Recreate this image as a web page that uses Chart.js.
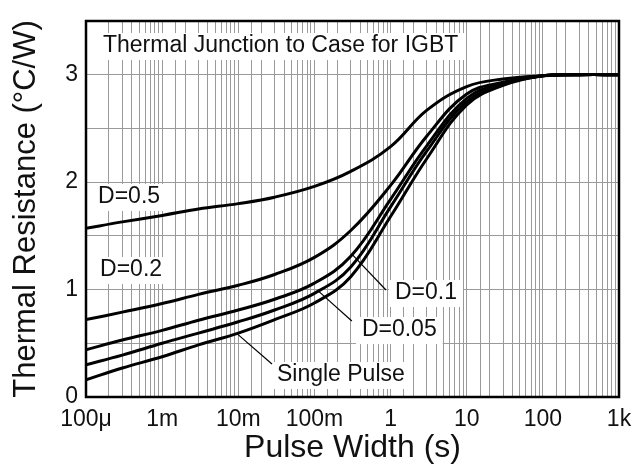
<!DOCTYPE html>
<html>
<head>
<meta charset="utf-8">
<script src="https://cdn.jsdelivr.net/npm/chart.js@4.4.1/dist/chart.umd.min.js"></script>
<style>
html, body { margin: 0; padding: 0; background: #fff; }
#wrap { width: 634px; height: 470px; position: relative; }
</style>
</head>
<body>
<div id="wrap"><canvas id="zthChart"></canvas></div>
<script>
// pulse width (s) and thermal resistance (°C/W)
const pulseWidths = [1e-4, 3e-4, 1e-3, 3e-3, 1e-2, 3e-2, 0.1, 0.3, 1, 3, 10, 30, 100, 300, 1000];
const zthD05    = [1.57, 1.63, 1.69, 1.75, 1.80, 1.86, 1.96, 2.10, 2.33, 2.67, 2.89, 2.96, 2.99, 3.00, 3.00];
const zthD02    = [0.72, 0.79, 0.87, 0.955, 1.04, 1.14, 1.30, 1.55, 1.97, 2.43, 2.82, 2.93, 2.99, 3.00, 3.00];
const zthD01    = [0.44, 0.53, 0.62, 0.715, 0.81, 0.91, 1.06, 1.31, 1.84, 2.34, 2.78, 2.92, 2.99, 3.00, 3.00];
const zthD005   = [0.30, 0.39, 0.50, 0.595, 0.70, 0.81, 0.965, 1.21, 1.77, 2.29, 2.75, 2.91, 2.99, 3.00, 3.00];
const zthSingle = [0.16, 0.27, 0.375, 0.485, 0.595, 0.72, 0.875, 1.12, 1.68, 2.22, 2.72, 2.90, 2.99, 3.00, 3.00];

const xTickLabels = ['100μ', '1m', '10m', '100m', '1', '10', '100', '1k'];

// curve labels (data coordinates of the left/middle of the text)
const noteTexts = ['Thermal Junction to Case for IGBT', 'D=0.5', 'D=0.2', 'D=0.1', 'D=0.05', 'Single Pulse'];
const noteX = [1.67e-4, 1.44e-4, 1.53e-4, 1.14, 0.42, 0.0322];
const noteY = [3.267, 1.862, 1.182, 0.968, 0.623, 0.205];

// leader lines from label to curve
const leaderFromX = [0.87, 0.31, 0.0277];
const leaderFromY = [0.996, 0.707, 0.307];
const leaderToX = [0.31, 0.111, 0.0096];
const leaderToY = [1.33, 0.99, 0.59];

const FONT = '"Liberation Sans", Arial, sans-serif';

function series(values) {
    return values.map((v, i) => ({ x: pulseWidths[i], y: v }));
}

function curve(label, values) {
    return {
        label: label,
        data: series(values),
        borderColor: '#000',
        borderWidth: 3,
        pointRadius: 0,
        fill: false,
        tension: 0.4
    };
}

const notesPlugin = {
    id: 'notes',
    beforeDatasetsDraw(chart) {
        const { ctx, scales: { x, y } } = chart;
        ctx.save();
        ctx.font = '23px ' + FONT;
        ctx.textBaseline = 'middle';
        noteTexts.forEach((t, i) => {
            const px = x.getPixelForValue(noteX[i]);
            const py = y.getPixelForValue(noteY[i]);
            const w = ctx.measureText(t).width;
            ctx.fillStyle = '#fff';
            ctx.fillRect(px - 6, py - 13, w + 12, 27);
            ctx.fillStyle = '#111';
            ctx.fillText(t, px, py);
        });
        ctx.strokeStyle = '#000';
        ctx.lineWidth = 1.2;
        leaderFromX.forEach((fx, i) => {
            ctx.beginPath();
            ctx.moveTo(x.getPixelForValue(fx), y.getPixelForValue(leaderFromY[i]));
            ctx.lineTo(x.getPixelForValue(leaderToX[i]), y.getPixelForValue(leaderToY[i]));
            ctx.stroke();
        });
        ctx.restore();
    },
    afterDraw(chart) {
        const { ctx, chartArea: a } = chart;
        ctx.save();
        ctx.strokeStyle = '#000';
        ctx.lineWidth = 2.5;
        ctx.strokeRect(a.left, a.top, a.right - a.left, a.bottom - a.top);
        ctx.restore();
    }
};

new Chart(document.getElementById('zthChart'), {
    type: 'line',
    data: {
        datasets: [
            curve('D=0.5', zthD05),
            curve('D=0.2', zthD02),
            curve('D=0.1', zthD01),
            curve('D=0.05', zthD005),
            curve('Single Pulse', zthSingle)
        ]
    },
    plugins: [notesPlugin],
    options: {
        responsive: true,
        maintainAspectRatio: false,
        animation: false,
        layout: { padding: { top: 21, right: 15, left: 0, bottom: 0 } },
        plugins: {
            legend: { display: false },
            tooltip: { enabled: false }
        },
        scales: {
            x: {
                type: 'logarithmic',
                min: 1e-4,
                max: 1e3,
                grid: { color: '#9a9a9a', lineWidth: 1, drawTicks: false },
                border: { display: false },
                ticks: {
                    autoSkip: false,
                    maxRotation: 0,
                    padding: 9,
                    color: '#111',
                    font: { family: FONT, size: 23 },
                    callback: (v) => {
                        const e = Math.log10(v);
                        if (Math.abs(e - Math.round(e)) > 1e-6) return '';
                        return xTickLabels[Math.round(e) + 4] || '';
                    }
                },
                title: {
                    display: true,
                    text: 'Pulse Width (s)',
                    color: '#111',
                    font: { family: FONT, size: 32 },
                    padding: { top: 0, bottom: 3 }
                },
                afterFit: (s) => { s.height = 73; s.paddingLeft = 0; s.paddingRight = 0; }
            },
            y: {
                min: 0,
                max: 3.5,
                grid: { color: '#9a9a9a', lineWidth: 1, drawTicks: false },
                border: { display: false },
                ticks: {
                    stepSize: 0.5,
                    padding: 8,
                    color: '#111',
                    font: { family: FONT, size: 23 },
                    callback: (v) => Number.isInteger(v) ? v : ''
                },
                title: {
                    display: true,
                    text: 'Thermal Resistance (°C/W)',
                    color: '#111',
                    font: { family: FONT, size: 31 },
                    padding: { top: 8, bottom: 0 }
                },
                afterFit: (s) => { s.width = 86; s.paddingTop = 0; s.paddingBottom = 0; }
            }
        }
    }
});
</script>
</body>
</html>
